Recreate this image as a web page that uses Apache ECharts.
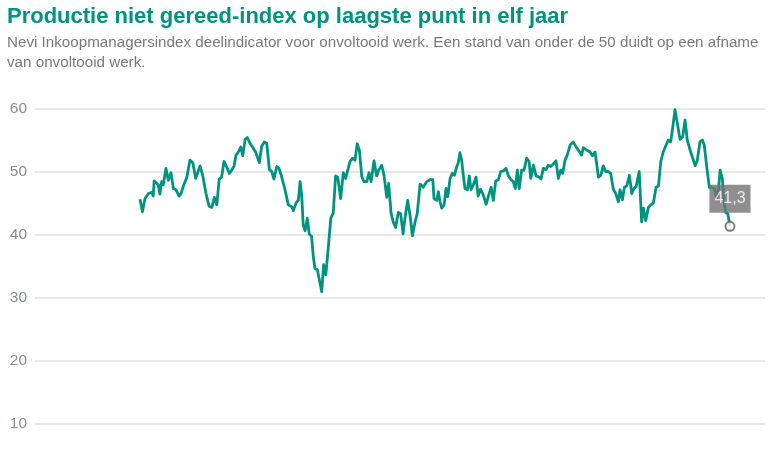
<!DOCTYPE html>
<html>
<head>
<meta charset="utf-8">
<script src="https://cdn.jsdelivr.net/npm/echarts@6/dist/echarts.min.js"></script>
<style>
html,body{margin:0;padding:0;background:#fff;}
#chart{width:776px;height:466px;}
</style>
</head>
<body>
<div id="chart"></div>
<script>
var titleText = 'Productie niet gereed-index op laagste punt in elf jaar';
var subtitleText = 'Nevi Inkoopmanagersindex deelindicator voor onvoltooid werk. Een stand van onder de 50 duidt op een afname\nvan onvoltooid werk.';
var yTicks = [10, 20, 30, 40, 50, 60];

// time position in months
var months = [
0,1.0,2.1,3.5,4.9,5.5,5.9,7.6,8.3,9.0,9.7,10.8,11.8,12.9,13.9,15.0,16.3,17.1,18.0,19.5,
20.8,22.0,23.2,25.0,26.1,27.5,28.8,29.9,31.0,32.0,33.0,34.0,35.0,36.4,37.2,38.2,39.2,40.0,41.0,42.0,
42.8,43.8,44.7,45.8,47.0,48.3,49.7,50.7,51.8,52.8,53.9,54.9,55.8,57.0,57.9,59.0,60.4,61.8,63.2,63.9,
65.0,66.0,66.7,67.4,68.0,68.8,69.7,70.5,71.5,72.2,72.9,73.9,74.7,75.7,76.5,77.4,78.5,79.5,80.5,81.5,
82.4,83.6,84.7,85.7,86.5,87.5,88.6,89.6,90.5,91.4,92.4,93.3,94.5,95.4,96.3,97.5,98.6,99.6,100.7,101.7,
102.8,103.6,104.6,105.5,106.5,107.6,108.6,109.6,110.4,111.5,112.5,113.5,114.6,115.5,116.7,118.0,119.5,120.8,122.0,122.5,
123.6,124.3,125.0,125.7,126.7,127.5,128.2,129.2,130.1,131.0,132.0,132.6,133.3,134.0,134.7,135.4,136.4,137.2,137.9,138.9,
140.0,140.9,141.9,143.0,144.2,145.1,146.3,147.2,148.2,149.3,150.3,151.4,152.5,153.5,154.6,155.5,156.4,157.2,158.0,159.0,
160.0,161.1,162.1,162.8,163.9,165.0,165.9,167.1,168.0,169.2,170.1,171.1,172.2,173.3,174.3,175.3,176.1,177.1,178.0,179.2,
180.5,181.7,182.6,184.0,184.7,186.1,187.5,188.5,189.6,190.3,191.0,192.0,193.0,194.0,195.1,196.1,197.2,198.3,199.3,200.0,
201.0,201.8,202.8,203.9,204.9,205.8,206.7,208.0,209.0,209.7,210.7,211.8,212.8,213.9,215.0,216.0,217.0,218.0,219.2,220.1,
221.1,222.0,222.9,223.9,225.0,226.1,227.1,228.0,229.2,230.3,231.3,232.2,233.3,234.3,235.1,236.1,237.2,238.2,239.3,240.3,
241.0,241.7,242.6,243.3,244.0,244.9,245.8
];

var values = [
45.6,43.6,45.7,46.5,46.7,46.1,48.5,47.9,46.4,48.4,47.9,50.5,48.6,49.8,47.3,47.1,46.1,46.5,47.6,49.1,
51.8,51.4,48.9,50.9,49.4,46.5,44.5,44.3,45.9,44.7,48.8,49.1,51.6,50.5,49.7,50.2,50.9,52.6,53.1,53.9,
52.5,55.1,55.4,54.5,53.8,53.0,51.4,54.0,54.7,54.5,50.3,50.0,48.8,50.8,50.5,49.2,47.1,44.7,44.4,43.8,
45.0,45.5,48.4,46.1,41.5,40.6,42.6,40.1,39.7,36.5,34.6,34.4,34.1,30.9,35.2,33.6,38.1,42.6,43.4,49.3,
49.1,45.7,49.8,48.9,49.2,51.6,52.1,51.8,54.4,53.4,49.2,48.4,48.4,49.8,48.4,51.7,49.3,50.3,51.0,49.3,
45.9,48.1,43.4,42.0,41.1,43.5,43.3,40.1,42.6,45.4,43.1,39.8,42.0,43.3,48.0,47.5,48.4,48.7,48.7,45.7,
45.4,46.8,45.2,44.2,44.7,47.3,46.0,48.9,49.7,49.4,50.8,51.4,53.0,51.8,49.4,47.3,47.1,49.3,47.1,47.9,
49.1,46.1,47.2,46.3,44.8,46.0,47.5,45.4,48.5,48.7,50.0,50.1,50.5,49.3,48.7,48.4,47.3,50.2,47.3,50.2,
50.2,52.1,51.6,48.9,51.0,49.3,49.2,48.8,50.5,50.3,51.0,50.8,51.2,51.7,48.9,50.2,49.7,51.8,52.6,54.2,
54.7,53.9,53.4,52.6,53.8,53.4,53.1,52.5,53.1,53.3,49.1,49.4,50.9,50.0,50.0,49.7,47.2,46.4,45.2,47.1,
45.5,47.5,47.7,49.4,46.5,47.3,47.6,50.0,42.0,44.2,42.2,44.3,44.7,45.0,47.5,47.7,51.6,53.1,54.2,55.0,
54.7,57.1,59.8,57.6,55.1,55.5,58.2,55.0,53.4,52.1,50.9,51.8,54.7,55.0,54.2,50.8,47.5,47.5,47.3,45.7,
47.1,50.2,48.9,45.5,43.5,43.3,41.3
];

var lineData = months.map(function (m, i) { return [m, values[i]]; });
var lastPoint = [months[months.length - 1], values[values.length - 1]];

var font = '"Liberation Sans", Arial, Helvetica, sans-serif';
var chart = echarts.init(document.getElementById('chart'), null, {renderer: 'canvas'});
chart.setOption({
  animation: false,
  backgroundColor: '#ffffff',
  title: [{
    text: titleText,
    left: 7, top: 6, padding: 0,
    textStyle: {fontFamily: font, fontSize: 22, fontWeight: 'bold', color: '#00937F'}
  }, {
    text: subtitleText,
    left: 7, top: 33, padding: 0,
    textStyle: {fontFamily: font, fontSize: 15.2, fontWeight: 'normal', color: '#7a7a7a', lineHeight: 20}
  }],
  grid: {left: 35, right: 11, top: 108.5, bottom: 42.5, containLabel: false},
  xAxis: {
    type: 'value',
    min: -43.75, max: 260.4,
    axisLine: {show: false}, axisTick: {show: false}, axisLabel: {show: false},
    splitLine: {show: false}
  },
  yAxis: {
    type: 'value',
    min: yTicks[0], max: yTicks[yTicks.length - 1], interval: 10,
    axisLine: {show: false}, axisTick: {show: false},
    axisLabel: {fontFamily: font, fontSize: 15.5, color: '#888d93', margin: 8},
    splitLine: {lineStyle: {color: '#e8e8e8', width: 2}}
  },
  series: [{
    type: 'line',
    data: lineData,
    showSymbol: false,
    symbol: 'none',
    lineStyle: {color: '#00937F', width: 2.8, join: 'round'},
    z: 2
  }, {
    type: 'scatter',
    data: [lastPoint],
    symbol: 'circle',
    symbolSize: 9,
    itemStyle: {color: '#ffffff', borderColor: '#5b5b5b', borderWidth: 2},
    label: {
      show: true,
      position: 'top',
      distance: 8,
      formatter: function (p) { return String(p.value[1]).replace('.', ','); },
      backgroundColor: '#737373',
      color: '#ffffff',
      fontFamily: font,
      fontSize: 16,
      padding: [6, 5, 6, 5]
    },
    z: 3
  }]
});
</script>
</body>
</html>
